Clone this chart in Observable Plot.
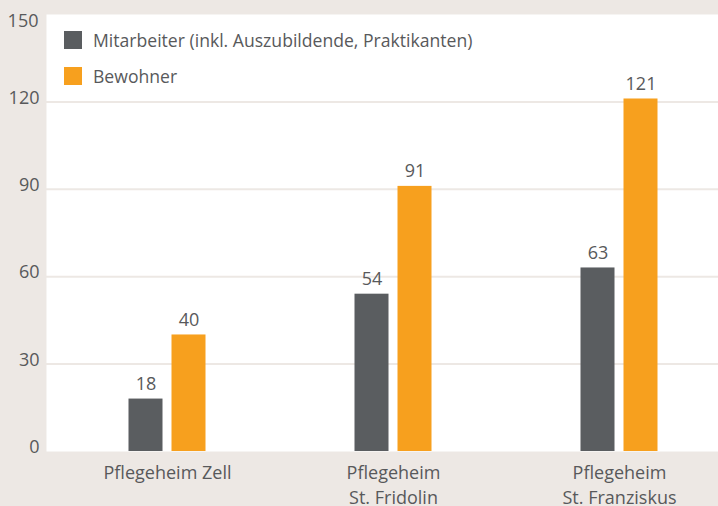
<!DOCTYPE html>
<html>
<head>
<meta charset="utf-8">
<script src="https://cdn.jsdelivr.net/npm/d3@7"></script>
<script src="https://cdn.jsdelivr.net/npm/@observablehq/plot@0.6"></script>
<style>
  html, body { margin: 0; padding: 0; background: #ede8e4; }
  #wrap { position: relative; width: 718px; height: 506px; font-family: "Open Sans", sans-serif; }
  #legend { position: absolute; left: 64px; top: 31px; color: #58595b; font-size: 17.6px; }
  .item { display: flex; align-items: center; height: 18px; margin-bottom: 18px; white-space: nowrap; }
  .sw { width: 18px; height: 18px; margin-right: 11px; flex: none; }
</style>
</head>
<body>
<div id="wrap"></div>
<script>
const groups = ["Pflegeheim Zell", "Pflegeheim\nSt. Fridolin", "Pflegeheim\nSt. Franziskus"];
const seriesNames = ["Mitarbeiter (inkl. Auszubildende, Praktikanten)", "Bewohner"];
const mitarbeiter = [18, 54, 63];
const bewohner = [40, 91, 121];
const yTicks = [0, 30, 60, 90, 120];
const yTop = [150];
const colors = ["#5a5d60", "#f7a01e"];
const textColor = "#58595b";
const bg = "#ede8e4";

const dataM = groups.map((g, i) => ({group: g, value: mitarbeiter[i]}));
const dataB = groups.map((g, i) => ({group: g, value: bewohner[i]}));

const chart = Plot.plot({
  width: 718,
  height: 506,
  marginLeft: 46,
  marginRight: 0,
  marginTop: 14,
  marginBottom: 55,
  style: {background: bg, fontFamily: "Open Sans, sans-serif", color: textColor, overflow: "visible"},
  x: {domain: groups, range: [53.5, 731.5], padding: 0},
  y: {domain: [0, 150]},
  marks: [
    Plot.frame({fill: "white", stroke: null}),
    Plot.ruleY(yTicks.filter(d => d > 0), {stroke: bg, strokeWidth: 2}),
    Plot.barY(dataM, {x: "group", y: "value", fill: colors[0], insetLeft: 74.5, insetRight: 117.5}),
    Plot.barY(dataB, {x: "group", y: "value", fill: colors[1], insetLeft: 117.5, insetRight: 74.5}),
    Plot.text(dataM, {x: "group", y: "value", text: d => String(d.value), dx: -21.5, dy: -15, fill: textColor, fontSize: 18}),
    Plot.text(dataB, {x: "group", y: "value", text: d => String(d.value), dx: 21.5, dy: -15, fill: textColor, fontSize: 18}),
    Plot.axisY({ticks: yTicks, tickSize: 0, tickPadding: 7, dy: -4, fontSize: 18, fill: textColor, label: null}),
    Plot.axisY({ticks: yTop, tickSize: 0, tickPadding: 8, dy: 7, fontSize: 18, fill: textColor, label: null}),
    Plot.axisX({tickSize: 0, tickPadding: 10, fontSize: 18, fill: textColor, label: null, lineHeight: 1.38})
  ]
});

const wrap = document.getElementById("wrap");
wrap.appendChild(chart);
const legend = document.createElement("div");
legend.id = "legend";
seriesNames.forEach((name, i) => {
  const it = document.createElement("div");
  it.className = "item";
  const sw = document.createElement("span");
  sw.className = "sw";
  sw.style.background = colors[i];
  const t = document.createElement("span");
  t.textContent = name;
  it.appendChild(sw);
  it.appendChild(t);
  legend.appendChild(it);
});
wrap.appendChild(legend);
</script>
</body>
</html>
